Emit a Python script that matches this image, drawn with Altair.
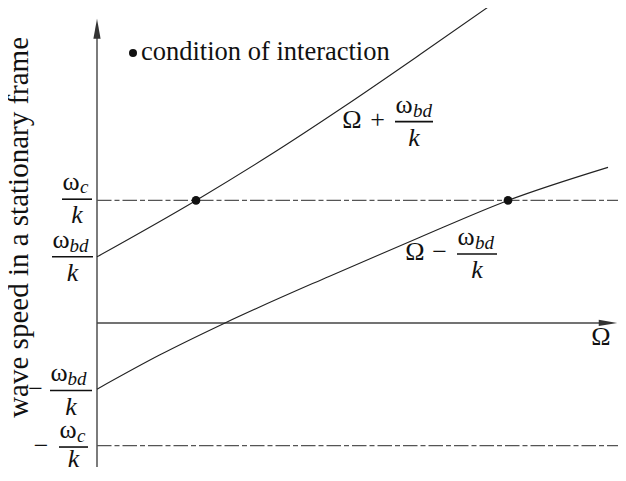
import altair as alt
import pandas as pd

# ---------------- values ----------------
# curve  Omega + w_bd/k
upper_x = [0.0, 0.99, 1.73, 2.46, 3.23, 3.95]
upper_y = [0.54, 1.0, 1.37, 1.76, 2.19, 2.60]
# curve  Omega - w_bd/k
lower_x = [0.0, 0.63, 1.28, 2.32, 3.23, 4.11, 5.11]
lower_y = [-0.54, -0.26, 0.0, 0.38, 0.70, 1.0, 1.27]
# levels  +-w_c/k  (dash-dot lines)
level_y = [1.0, -1.0]
# conditions of interaction
point_x = [0.99, 4.11]
point_y = [1.0, 1.0]

X_DOMAIN = [-0.89, 5.21]
Y_DOMAIN = [-1.175, 2.57]
FONT = "Liberation Serif, 'DejaVu Serif', 'Times New Roman', serif"

xs = alt.Scale(domain=X_DOMAIN, nice=False, zero=False)
ys = alt.Scale(domain=Y_DOMAIN, nice=False, zero=False)


def enc_xy(xf="x", yf="y"):
    return dict(x=alt.X(f"{xf}:Q", scale=xs, axis=None),
                y=alt.Y(f"{yf}:Q", scale=ys, axis=None))


curves = pd.DataFrame(
    [{"curve": "plus", "x": a, "y": b, "o": i} for i, (a, b) in enumerate(zip(upper_x, upper_y))]
    + [{"curve": "minus", "x": a, "y": b, "o": i} for i, (a, b) in enumerate(zip(lower_x, lower_y))]
)
levels = pd.DataFrame({"y": level_y, "x0": [0.0, 0.0], "x1": [5.3, 5.3]})
points = pd.DataFrame({"x": point_x, "y": point_y})
axes_df = pd.DataFrame({"x": [0.0, 0.0], "x2": [0.0, 5.03], "y": [-1.3, 0.0], "y2": [2.35, 0.0]})
yarrow = pd.DataFrame({"x": [0.0], "y": [2.40]})
xarrow = pd.DataFrame({"x": [5.11], "y": [0.0]})

# fraction bars (x0, x1, y)
bars = pd.DataFrame({
    "x0": [-0.35, -0.45, -0.47, -0.38, 2.98, 3.60],
    "x1": [-0.05, -0.04, -0.05, -0.09, 3.36, 4.00],
    "y": [1.01, 0.54, -0.551, -1.012, 1.643, 0.563],
})
# upright symbols
sym = pd.DataFrame({
    "x": [-0.26, -0.36, -0.38, -0.29, 3.07, 3.69, 2.55, 2.805, 3.18, 3.425, -0.615, -0.56, 5.04],
    "y": [1.081, 0.612, -0.477, -0.938, 1.716, 0.636, 1.591, 1.591, 0.514, 0.514, -0.604, -1.065, -0.18],
    "t": ["ω", "ω", "ω", "ω", "ω", "ω", "Ω", "+", "Ω", "−", "−", "−", "Ω"],
})
# italic subscripts
subs = pd.DataFrame({
    "x": [-0.17, -0.275, -0.295, -0.20, 3.16, 3.78],
    "y": [1.057, 0.583, -0.510, -0.971, 1.683, 0.604],
    "t": ["c", "bd", "bd", "c", "bd", "bd"],
})
# italic denominators
dens = pd.DataFrame({
    "x": [-0.20, -0.245, -0.26, -0.235, 3.17, 3.80],
    "y": [0.812, 0.343, -0.747, -1.175, 1.447, 0.367],
    "t": ["k"] * 6,
})
legend_dot = pd.DataFrame({"x": [0.36], "y": [2.203]})
legend_txt = pd.DataFrame({"x": [0.44], "y": [2.146], "t": ["condition of interaction"]})
ylabel = pd.DataFrame({"x": [-0.695], "y": [0.78], "t": ["wave speed in a stationary frame"]})

layers = []
layers.append(alt.Chart(axes_df).mark_rule(color="#444", strokeWidth=1.4).encode(
    x=alt.X("x:Q", scale=xs, axis=None), x2="x2:Q",
    y=alt.Y("y:Q", scale=ys, axis=None), y2="y2:Q"))
layers.append(alt.Chart(yarrow).mark_point(
    shape="M0,-1L0.36,1L-0.36,1Z", filled=True, opacity=1, color="#333", size=400, strokeWidth=0
).encode(**enc_xy()))
layers.append(alt.Chart(xarrow).mark_point(
    shape="M1,0L-1,-0.34L-1,0.34Z", filled=True, opacity=1, color="#333", size=340, strokeWidth=0
).encode(**enc_xy()))
layers.append(alt.Chart(levels).mark_rule(color="#555", strokeWidth=1.3, strokeDash=[14.5, 3, 5, 3], clip=True).encode(
    x=alt.X("x0:Q", scale=xs, axis=None), x2="x1:Q", y=alt.Y("y:Q", scale=ys, axis=None)))
layers.append(alt.Chart(curves).mark_line(color="#222", strokeWidth=1.1, interpolate="monotone", clip=True).encode(
    detail="curve:N", order="o:Q", **enc_xy()))
layers.append(alt.Chart(points).mark_circle(color="#111", size=75, opacity=1).encode(**enc_xy()))
layers.append(alt.Chart(legend_dot).mark_circle(color="#111", size=64, opacity=1).encode(**enc_xy()))
layers.append(alt.Chart(bars).mark_rule(color="#111", strokeWidth=1.6).encode(
    x=alt.X("x0:Q", scale=xs, axis=None), x2="x1:Q", y=alt.Y("y:Q", scale=ys, axis=None)))
layers.append(alt.Chart(sym).mark_text(font=FONT, fontSize=26, align="center", baseline="alphabetic", color="#111").encode(
    text="t:N", **enc_xy()))
layers.append(alt.Chart(subs).mark_text(font=FONT, fontSize=19, fontStyle="italic", align="left", baseline="alphabetic", color="#111").encode(
    text="t:N", **enc_xy()))
layers.append(alt.Chart(dens).mark_text(font=FONT, fontSize=26, fontStyle="italic", align="center", baseline="alphabetic", color="#111").encode(
    text="t:N", **enc_xy()))
layers.append(alt.Chart(legend_txt).mark_text(font=FONT, fontSize=26.5, align="left", baseline="alphabetic", color="#111").encode(
    text="t:N", **enc_xy()))
layers.append(alt.Chart(ylabel).mark_text(font=FONT, fontSize=29, angle=270, align="center", baseline="alphabetic", color="#111").encode(
    text="t:N", **enc_xy()))

chart = alt.layer(*layers).properties(
    width=610, height=459, padding=0,
    autosize=alt.AutoSizeParams(type="none"),
).configure_view(stroke=None)

chart.save("out.html", embed_options={"renderer": "svg", "actions": False})
